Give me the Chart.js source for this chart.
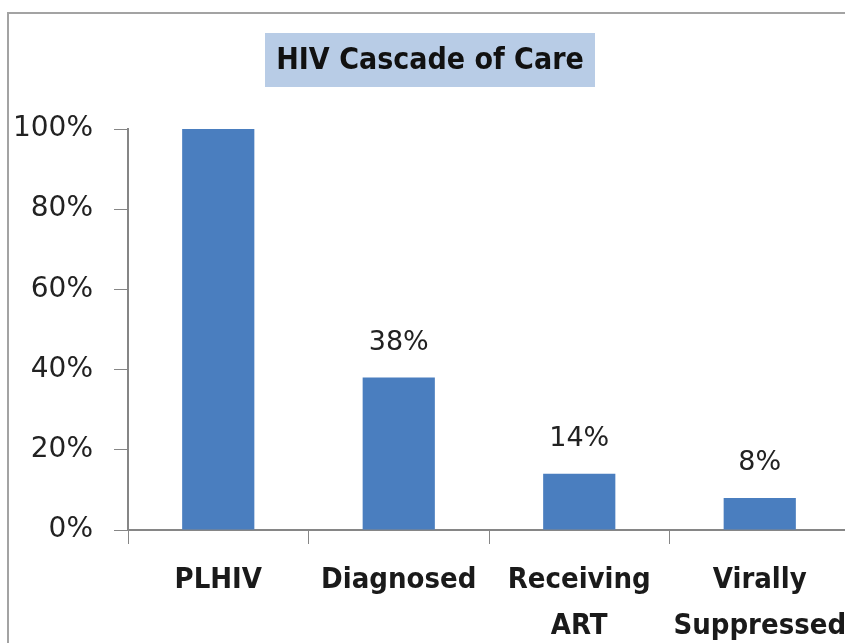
<!DOCTYPE html>
<html>
<head>
<meta charset="utf-8">
<script src="https://cdn.jsdelivr.net/npm/chart.js@4"></script>
<style>
    html, body { margin: 0; padding: 0; background: #fff; overflow: hidden; width: 845px; height: 643px; }
    #frame { position: absolute; left: 7px; top: 12px; width: 900px; height: 700px; border: 2px solid #a3a3a3; }
    #wrap { position: absolute; left: 0; top: 0; width: 850px; height: 652px; }
</style>
</head>
<body>
<div id="frame"></div>
<div id="wrap"><canvas id="cascade"></canvas></div>
<script>
const categories = [['PLHIV'], ['Diagnosed'], ['Receiving', 'ART'], ['Virally', 'Suppressed']];
const values = [100, 38, 14, 8];
const dataLabels = ['', '38%', '14%', '8%'];
const yTicks = [0, 20, 40, 60, 80, 100];
const chartTitle = 'HIV Cascade of Care';

const labelFont = '"Liberation Sans Narrow", "DejaVu Sans Condensed", sans-serif';
const numFont = '"DejaVu Sans", Verdana, sans-serif';

// title with its shaded box
const titleBox = {
    id: 'titleBox',
    beforeDraw(chart) {
        const ctx = chart.ctx;
        ctx.save();
        ctx.fillStyle = '#b8cce6';
        ctx.fillRect(265, 33, 330, 54);
        ctx.font = 'bold 30px ' + labelFont;
        ctx.fillStyle = '#111';
        ctx.textAlign = 'center';
        ctx.textBaseline = 'middle';
        ctx.fillText(chartTitle, 430, 61);
        ctx.restore();
    }
};

// value labels above bars
const barLabels = {
    id: 'barLabels',
    afterDatasetsDraw(chart) {
        const ctx = chart.ctx;
        const meta = chart.getDatasetMeta(0);
        ctx.save();
        ctx.font = '27px ' + numFont;
        ctx.fillStyle = '#222';
        ctx.textAlign = 'center';
        ctx.textBaseline = 'middle';
        meta.data.forEach(function (bar, i) {
            if (dataLabels[i]) ctx.fillText(dataLabels[i], bar.x, bar.y - 35);
        });
        ctx.restore();
    }
};

new Chart(document.getElementById('cascade'), {
    type: 'bar',
    data: {
        labels: categories,
        datasets: [{
            data: values,
            backgroundColor: '#4a7ebf',
            categoryPercentage: 1,
            barPercentage: 0.4
        }]
    },
    options: {
        responsive: true,
        maintainAspectRatio: false,
        animation: false,
        layout: { padding: { left: 0, right: 0, top: 129, bottom: 0 } },
        plugins: {
            legend: { display: false },
            tooltip: { enabled: false },
            title: { display: false }
        },
        scales: {
            x: {
                grid: { display: true, drawOnChartArea: false, offset: true, color: '#868686', tickLength: 14 },
                border: { display: true, color: '#868686', width: 2 },
                ticks: {
                    autoSkip: false,
                    color: '#1a1a1a',
                    padding: 14,
                    maxRotation: 0,
                    font: { family: labelFont, size: 29, weight: 'bold', lineHeight: 1.57 }
                },
                afterFit(scale) {
                    scale.height = 122;
                    scale.paddingLeft = 0;
                    scale.paddingRight = 0;
                }
            },
            y: {
                min: 0,
                max: 100,
                afterBuildTicks(scale) { scale.ticks = yTicks.map(v => ({ value: v })); },
                grid: { display: true, drawOnChartArea: false, color: '#868686', tickLength: 14 },
                border: { display: true, color: '#868686', width: 2 },
                ticks: {
                    color: '#222',
                    padding: 21,
                    font: { family: numFont, size: 28 },
                    callback: v => v + '%'
                },
                afterFit(scale) {
                    scale.width = 128;
                    scale.paddingTop = 0;
                    scale.paddingBottom = 0;
                }
            }
        }
    },
    plugins: [titleBox, barLabels]
});
</script>
</body>
</html>
